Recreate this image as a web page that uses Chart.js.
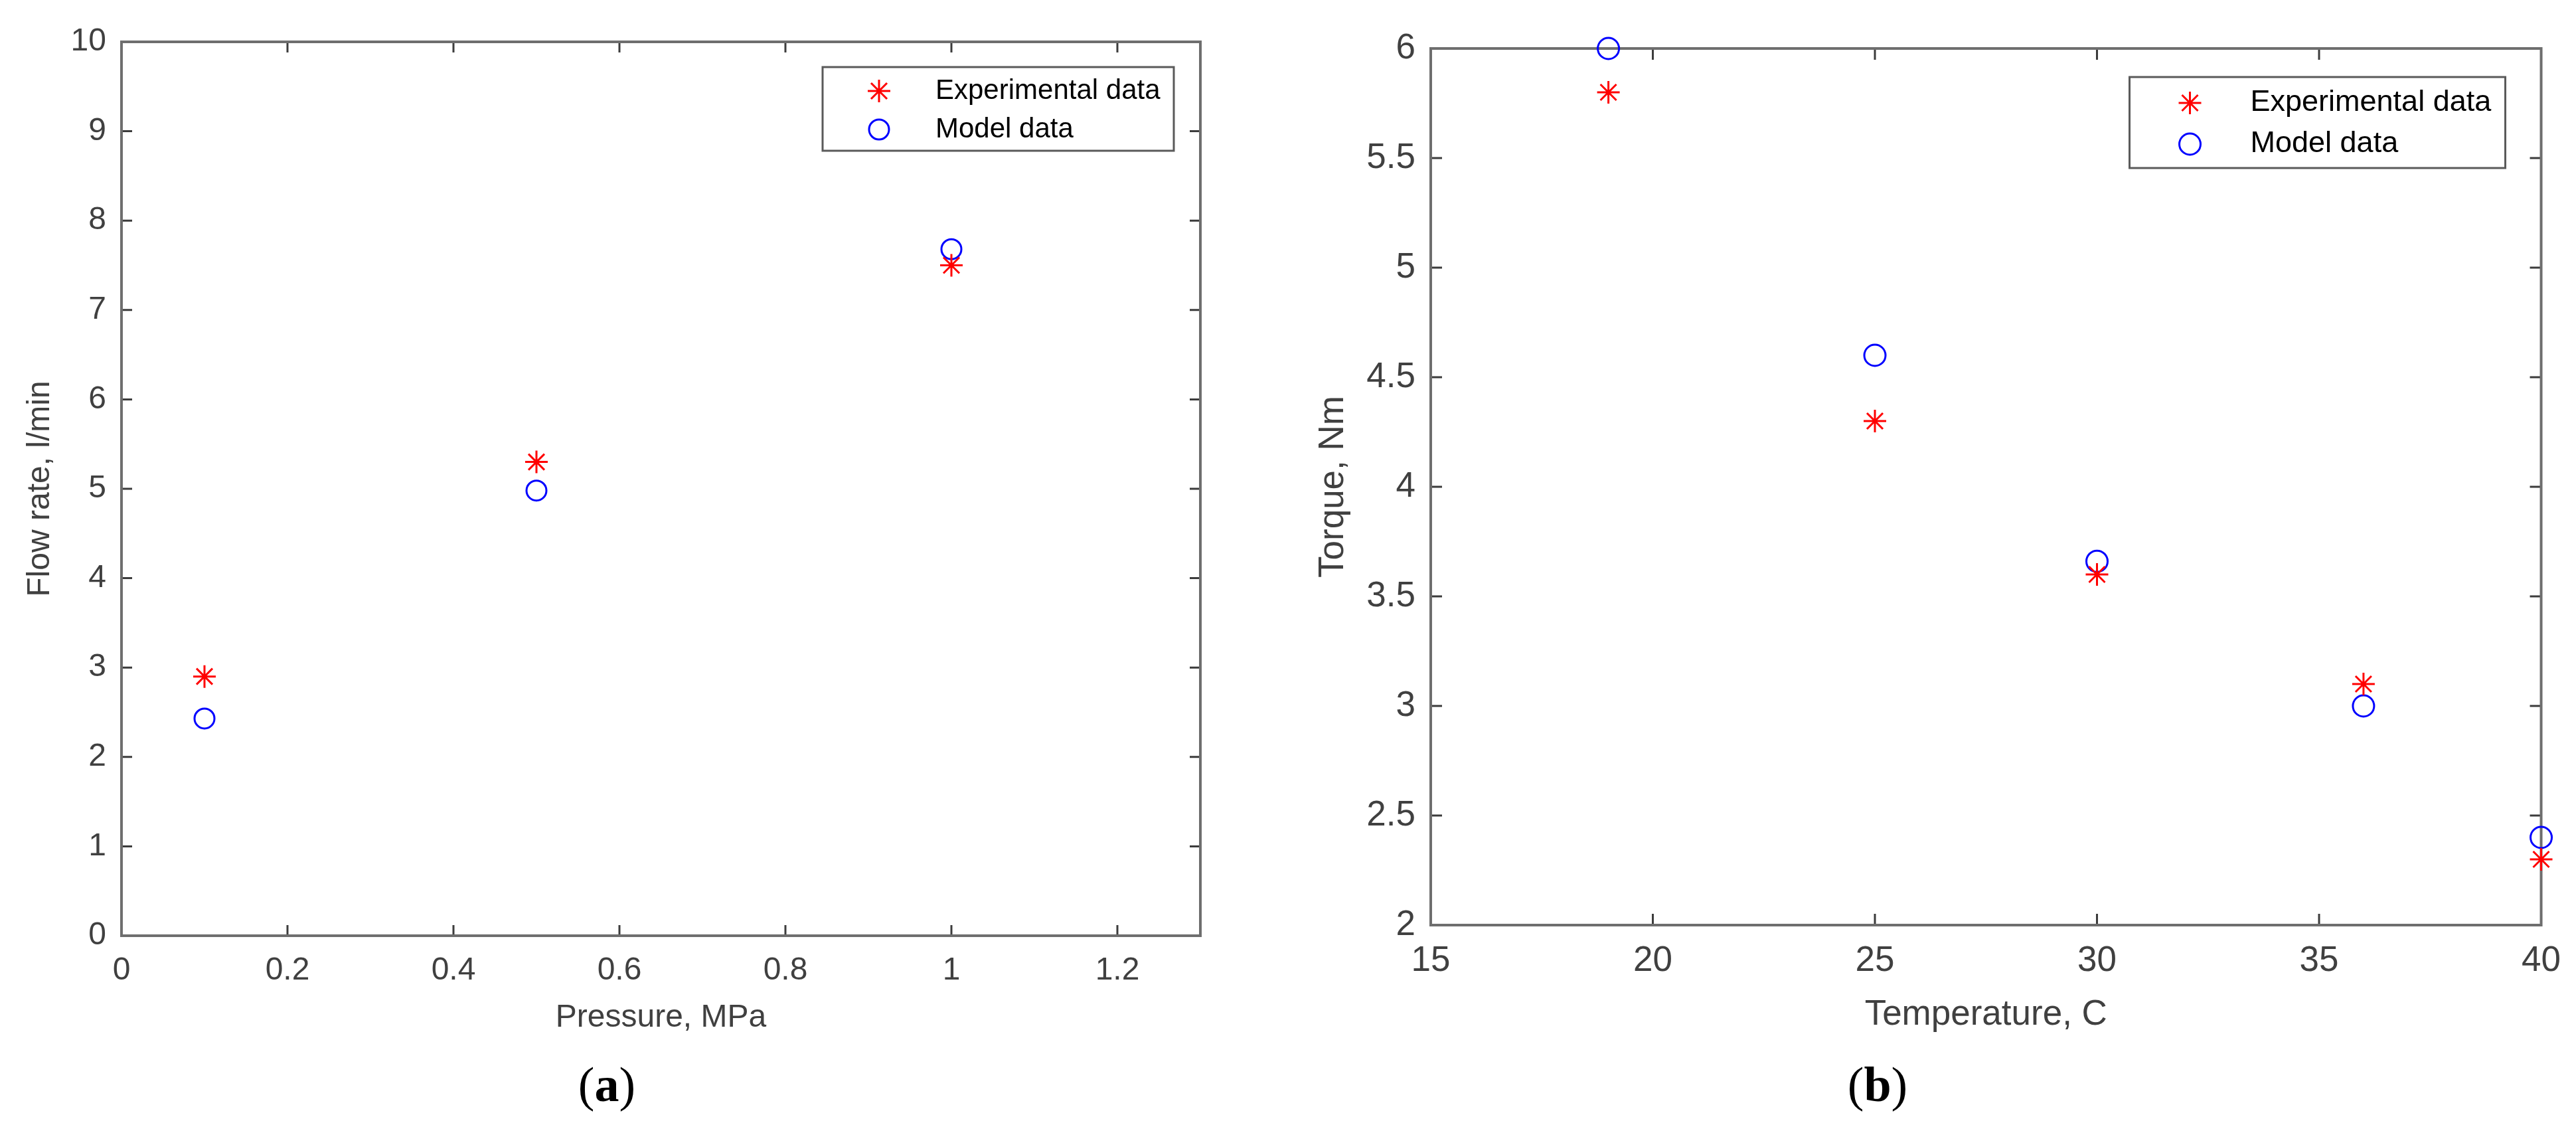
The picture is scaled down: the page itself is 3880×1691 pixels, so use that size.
<!DOCTYPE html>
<html>
<head>
<meta charset="utf-8">
<title>Flow rate and torque: experiment vs model</title>
<script src="https://cdn.jsdelivr.net/npm/chart.js"></script>
<style>
  html, body { margin: 0; padding: 0; background: #fff; }
  body { width: 3880px; height: 1691px; position: relative; overflow: hidden; }
  canvas { position: absolute; top: 0; }
  #chartA { left: 0; }
  #chartB { left: 1950px; }
  .panel {
    position: absolute; top: 1633px; transform: translate(-50%, -50%);
    font-family: "Liberation Serif", "Times New Roman", serif;
    font-size: 74px; line-height: 1; color: #000; z-index: 2;
  }
</style>
</head>
<body>
<canvas id="chartA" width="1900" height="1691"></canvas>
<canvas id="chartB" width="1930" height="1691"></canvas>
<div class="panel" style="left:914px">(<b>a</b>)</div>
<div class="panel" style="left:2828px">(<b>b</b>)</div>
<script>
// (a) flow rate vs pressure
const pressure = [0.1, 0.5, 1.0];
const flowExperimental = [2.9, 5.3, 7.5];
const flowModel = [2.43, 4.98, 7.68];

// (b) torque vs temperature
const temperature = [19, 25, 30, 36, 40];
const torqueExperimental = [5.8, 4.3, 3.6, 3.1, 2.3];
const torqueModel = [6.0, 4.6, 3.66, 3.0, 2.4];

const seriesLabels = ["Experimental data", "Model data"];

const FONT = "'Liberation Sans', Arial, Helvetica, sans-serif";
const TEXT = "#404040";

function toPoints(xs, ys) {
    return xs.map((x, i) => ({ x, y: ys[i] }));
}

// matlab style tick text: 1 not 1.0, 0.6 not 0.6000000001
function tickText(v) {
    return String(Number(v.toFixed(2)));
}

// matlab style box: axis frame, inward ticks on all sides, boxed legend
const frame = {
    id: "frame",
    beforeDatasetsDraw(chart, args, opts) {
        const { ctx, chartArea: a, scales: { x, y } } = chart;
        ctx.save();
        ctx.strokeStyle = "#3c3c3c";
        ctx.lineWidth = 3;
        ctx.beginPath();
        x.ticks.forEach(t => {
            const px = x.getPixelForValue(t.value);
            ctx.moveTo(px, a.bottom); ctx.lineTo(px, a.bottom - opts.tickLength);
            ctx.moveTo(px, a.top); ctx.lineTo(px, a.top + opts.tickLength);
        });
        y.ticks.forEach(t => {
            const py = y.getPixelForValue(t.value);
            ctx.moveTo(a.left, py); ctx.lineTo(a.left + opts.tickLength, py);
            ctx.moveTo(a.right, py); ctx.lineTo(a.right - opts.tickLength, py);
        });
        ctx.stroke();
        ctx.strokeStyle = "#6e6e6e";
        ctx.lineWidth = 4;
        ctx.strokeRect(a.left, a.top, a.right - a.left, a.bottom - a.top);
        ctx.restore();
    },
    afterDatasetsDraw(chart, args, opts) {
        const { ctx, chartArea: a } = chart;
        const lg = opts.legend;
        const left = a.right - lg.right - lg.width;
        const top = a.top + lg.top;
        ctx.save();
        ctx.fillStyle = "#fff";
        ctx.fillRect(left, top, lg.width, lg.height);
        ctx.strokeStyle = "#5a5a5a";
        ctx.lineWidth = 3;
        ctx.strokeRect(left, top, lg.width, lg.height);
        chart.data.datasets.forEach((ds, i) => {
            const cy = top + lg.rows[i];
            ctx.strokeStyle = ds.pointBorderColor;
            ctx.fillStyle = ds.pointBackgroundColor;
            ctx.lineWidth = ds.pointBorderWidth;
            Chart.helpers.drawPoint(ctx, {
                pointStyle: ds.pointStyle, radius: ds.pointRadius,
                borderWidth: ds.pointBorderWidth, rotation: 0
            }, left + lg.marker, cy);
            ctx.fillStyle = "#000";
            ctx.font = lg.fontSize + "px " + FONT;
            ctx.textBaseline = "middle";
            ctx.textAlign = "left";
            ctx.fillText(ds.label, left + lg.text, cy);
        });
        ctx.restore();
    }
};

function makePanel(id, p) {
    const ctx = document.getElementById(id).getContext("2d");
    return new Chart(ctx, {
        type: "scatter",
        data: {
            datasets: [{
                label: seriesLabels[0],
                data: toPoints(p.xs, p.exp),
                pointStyle: "star",
                pointRadius: 17,
                pointBorderWidth: 3,
                pointBorderColor: "#ff0000",
                pointBackgroundColor: "#ff0000",
                clip: false
            }, {
                label: seriesLabels[1],
                data: toPoints(p.xs, p.model),
                pointStyle: "circle",
                pointRadius: p.circle,
                pointBorderWidth: 3,
                pointBorderColor: "#0000ff",
                pointBackgroundColor: "rgba(0,0,0,0)",
                clip: false
            }]
        },
        options: {
            responsive: false,
            animation: false,
            layout: { padding: { left: 0, top: p.top, right: p.right, bottom: 0 } },
            plugins: {
                legend: { display: false },
                tooltip: { enabled: false },
                frame: { tickLength: p.tickLength, legend: p.legend }
            },
            scales: {
                x: {
                    type: "linear", min: p.xMin, max: p.xMax,
                    ticks: {
                        stepSize: p.xStep, includeBounds: false, autoSkip: false, maxRotation: 0,
                        padding: p.xTickPad, color: TEXT, font: { family: FONT, size: p.fontSize },
                        callback: tickText
                    },
                    grid: { display: false, drawTicks: false },
                    border: { display: false },
                    title: {
                        display: true, text: p.xTitle, color: TEXT,
                        font: { family: FONT, size: p.fontSize },
                        padding: { top: 0, bottom: p.xTitlePad }
                    },
                    afterFit(scale) { scale.height = p.xHeight; }
                },
                y: {
                    type: "linear", min: p.yMin, max: p.yMax,
                    ticks: {
                        stepSize: p.yStep, includeBounds: false, autoSkip: false,
                        padding: p.yTickPad, color: TEXT, font: { family: FONT, size: p.fontSize },
                        callback: tickText
                    },
                    grid: { display: false, drawTicks: false },
                    border: { display: false },
                    title: {
                        display: true, text: p.yTitle, color: TEXT,
                        font: { family: FONT, size: p.fontSize },
                        padding: { top: p.yTitlePad, bottom: 0 }
                    },
                    afterFit(scale) { scale.width = p.yWidth; }
                }
            }
        },
        plugins: [frame]
    });
}

makePanel("chartA", {
    xs: pressure, exp: flowExperimental, model: flowModel, circle: 15,
    xMin: 0, xMax: 1.3, xStep: 0.2, yMin: 0, yMax: 10, yStep: 1,
    xTitle: "Pressure, MPa", yTitle: "Flow rate, l/min",
    fontSize: 48, top: 63, right: 92, xHeight: 282, yWidth: 183,
    xTickPad: 24, yTickPad: 23, xTitlePad: 129, yTitlePad: 32, tickLength: 16,
    legend: { right: 40, top: 38, width: 529, height: 126, marker: 85, text: 170, rows: [36, 94], fontSize: 42 }
});

makePanel("chartB", {
    xs: temperature, exp: torqueExperimental, model: torqueModel, circle: 16,
    xMin: 15, xMax: 40, xStep: 5, yMin: 2, yMax: 6, yStep: 0.5,
    xTitle: "Temperature, C", yTitle: "Torque, Nm",
    fontSize: 53, top: 73, right: 52, xHeight: 298, yWidth: 205,
    xTickPad: 23, yTickPad: 23, xTitlePad: 131, yTitlePad: 27, tickLength: 17,
    legend: { right: 54, top: 43, width: 566, height: 137, marker: 91, text: 182, rows: [39, 101], fontSize: 45 }
});
</script>
</body>
</html>
